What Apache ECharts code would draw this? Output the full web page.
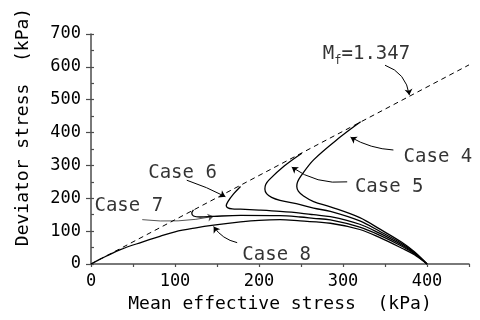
<!DOCTYPE html>
<html>
<head>
<meta charset="utf-8">
<script src="https://cdn.jsdelivr.net/npm/echarts@6/dist/echarts.min.js"></script>
<style>
  html, body { margin: 0; padding: 0; background: #fff; }
  #chart { width: 480px; height: 320px; }
</style>
</head>
<body>
<div id="chart"></div>
<script>
// critical state line, Mf = 1.347
const failureLine = [[0, 0], [450, 606]]

// effective stress paths [p', q] (kPa)
const case4 = [[400, 0], [385, 37], [370, 66], [344, 106], [320, 141], [285, 174], [265, 190],
  [253, 207], [247, 221], [245, 236], [246, 250], [250, 268], [265, 317], [297, 387], [321, 433]]
const case5 = [[400, 0], [385, 35], [370, 62], [344, 99], [320, 131], [285, 160], [265, 170],
  [249, 181], [225, 194], [215, 203], [209, 214], [207, 228], [208, 242], [212, 256], [230, 298], [251, 337]]
const case6 = [[400, 0], [385, 33], [370, 58], [344, 93], [320, 121], [285, 144], [265, 150],
  [249, 155], [225, 160], [200, 164], [178, 167], [168, 168], [163, 171], [161, 177], [163, 190], [170, 214], [178, 236]]
const case7 = [[400, 0], [385, 31], [370, 54], [344, 87], [320, 112], [285, 134], [265, 139],
  [249, 143], [225, 147], [178, 148], [146, 145], [130, 143], [122, 146], [120, 155], [122, 165]]
const case8 = [[400, 0], [385, 28], [370, 48], [344, 80], [320, 105], [285, 124], [249, 131],
  [225, 135], [200, 133], [178, 128], [146, 118], [125, 110], [100, 98], [82, 84], [60, 66], [35, 44], [20, 26], [0, 0]]

// annotation text and leaders (data coords)
const labelNames = ['Case 4', 'Case 5', 'Case 6', 'Case 7', 'Case 8']
const labelPos = [[413, 326], [355, 235], [109, 277], [45, 175], [221, 28]]
const mfLabel = 'M{sub|f}=1.347'
const mfPos = [328, 638]
const leaders = [
  [[350, 605], [379, 514], 0.3],
  [[360, 347], [309, 386], 0.12],
  [[305, 250], [239, 295], 0.19],
  [[114, 255], [160, 205], 0.04],
  [[61, 135], [146, 145], -0.08],
  [[174, 65], [146, 114], 0.2]
]

const font = 'DejaVu Sans Mono'
const chart = echarts.init(document.getElementById('chart'))

const pathSeries = [case4, case5, case6, case7, case8].map((d, i) => ({
  type: 'line',
  name: labelNames[i],
  data: d,
  smooth: 0.35,
  showSymbol: false,
  symbol: 'none',
  lineStyle: {color: '#000', width: 1.3}
}))

chart.setOption({
  animation: false,
  grid: {left: 91, right: 11, top: 34, bottom: 56, outerBoundsMode: 'none'},
  xAxis: {
    type: 'value', min: 0, max: 450, interval: 50,
    name: 'Mean effective stress  (kPa)',
    nameLocation: 'middle', nameGap: 29,
    nameTextStyle: {fontFamily: font, fontSize: 18, color: '#000'},
    splitLine: {show: false},
    axisLine: {lineStyle: {color: '#4d4d4d', width: 1.5}},
    axisTick: {length: 3, lineStyle: {color: '#4d4d4d', width: 1.2}},
    axisLabel: {
      margin: 9, fontFamily: font, fontSize: 17, color: '#000',
      formatter: v => (v % 100 === 0 ? v : '')
    }
  },
  yAxis: [{
    type: 'value', min: 0, max: 700, interval: 100,
    splitLine: {show: false},
    axisLine: {show: true, lineStyle: {color: '#4d4d4d', width: 1.5}},
    axisTick: {show: true, length: 5, lineStyle: {color: '#4d4d4d', width: 1.2}},
    axisLabel: {margin: 10, fontFamily: font, fontSize: 17, color: '#000'}
  }, {
    type: 'value', min: 0, max: 700, interval: 50, position: 'left',
    splitLine: {show: false},
    axisLine: {show: false},
    axisTick: {show: true, inside: true, length: 3, lineStyle: {color: '#4d4d4d', width: 1.2}},
    axisLabel: {show: false}
  }],
  graphic: [{
    type: 'text', x: 23, y: 127, rotation: Math.PI / 2,
    style: {
      text: 'Deviator stress  (kPa)', fontFamily: font, fontSize: 18, fill: '#000',
      align: 'center', verticalAlign: 'middle'
    }
  }],
  series: [
    {
      type: 'line', data: failureLine, showSymbol: false, symbol: 'none',
      lineStyle: {color: '#000', width: 1, type: [5, 4]}
    },
    ...pathSeries,
    {
      type: 'lines', coordinateSystem: 'cartesian2d', silent: true,
      symbol: ['none', 'arrow'], symbolSize: 6,
      data: leaders.map((l, i) => ({
        coords: [l[0], l[1]],
        lineStyle: {curveness: l[2], color: i === 4 ? '#555' : '#000', width: 1, opacity: 1}
      }))
    },
    {
      type: 'scatter', symbolSize: 0, silent: true,
      data: labelNames.map((n, i) => ({name: n, value: labelPos[i]})).concat([{name: mfLabel, value: mfPos}]),
      label: {
        show: true, position: [0, 0], align: 'center', verticalAlign: 'middle',
        formatter: p => p.name,
        fontFamily: font, fontSize: 19, color: '#000',
        rich: {
          sub: {fontFamily: font, fontSize: 12, color: '#000', padding: [14, 0, 0, 0]}
        }
      }
    }
  ]
})
</script>
</body>
</html>
